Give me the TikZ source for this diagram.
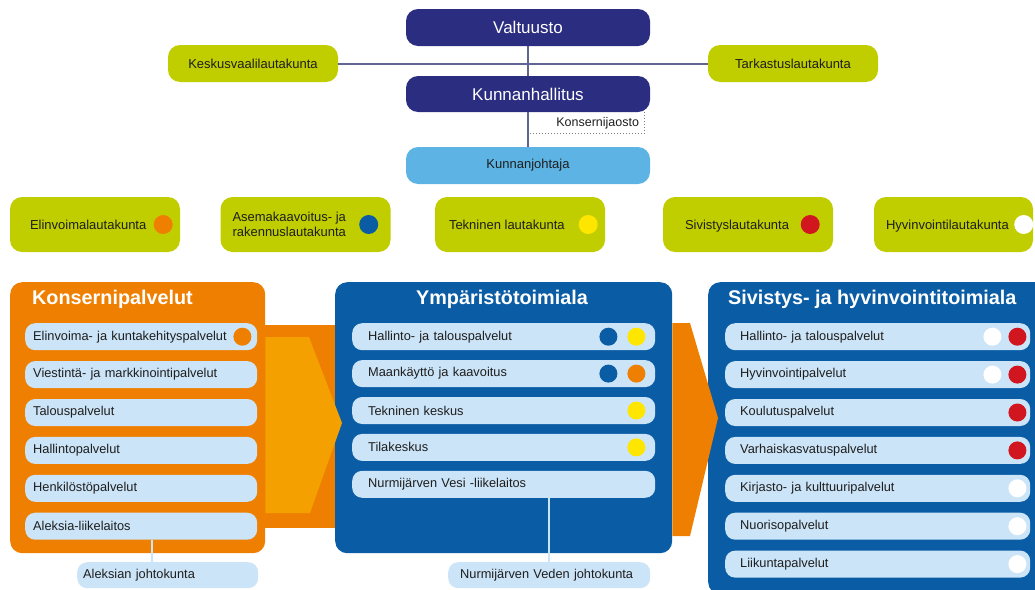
\documentclass[tikz,border=0pt]{standalone}
\usepackage{fontspec}
\setmainfont{Liberation Sans}
\usetikzlibrary{positioning}

\definecolor{hallitus}{RGB}{42,45,128}
\definecolor{lautavihrea}{RGB}{192,206,0}
\definecolor{johtaja}{RGB}{93,180,228}
\definecolor{oranssi}{RGB}{238,127,0}
\definecolor{vaaleaoranssi}{RGB}{244,160,0}
\definecolor{toimiala}{RGB}{10,92,165}
\definecolor{palvelusin}{RGB}{204,228,247}
\definecolor{keltainen}{RGB}{255,230,0}
\definecolor{punainen}{RGB}{210,22,32}
\definecolor{viivavari}{RGB}{95,100,145}
\definecolor{teksti}{RGB}{30,30,30}

\begin{document}
\begin{tikzpicture}[x=1pt,y=-1pt,
    ylin/.style={fill=hallitus, rounded corners=12pt, minimum width=244pt, minimum height=37pt, text=white, font=\fontsize{17}{20}\selectfont},
    lauta/.style={fill=lautavihrea, rounded corners=12pt, minimum width=170pt, minimum height=55pt},
    lautateksti/.style={inner sep=0pt, align=left, text=teksti, font=\fontsize{13}{15}\selectfont},
    yksirivi/.style={text height=9.3pt, text depth=0pt},
    paneeli/.style={rounded corners=12pt, anchor=north west},
    otsikko/.style={text=white, inner sep=0pt, font=\fontsize{19.8}{22}\selectfont\bfseries},
    palvelu/.style={fill=palvelusin, rounded corners=10pt, minimum height=27pt, inner ysep=0pt, align=left, anchor=north west, text=teksti, font=\fontsize{12.8}{15}\selectfont},
    viiva/.style={draw=viivavari, line width=2pt},
    johto/.style={draw=palvelusin, line width=2pt}]
    \useasboundingbox (0,0) rectangle (1035,589);
    \clip (0,0) rectangle (1035,589);

    % ylin johto
    \node[ylin] (valt) at (528,27.5) {Valtuusto};
    \node[ylin, minimum height=36pt] (kh) at (528,94) {Kunnanhallitus};
    \node[ylin, fill=johtaja, text=teksti, font=\fontsize{13}{15}\selectfont] (kj) at (528,165.5) {Kunnanjohtaja};
    \node[lauta, minimum height=37pt, text=teksti, font=\fontsize{13}{15}\selectfont] (kvl) at (253,63.5) {Keskusvaalilautakunta};
    \node[lauta, minimum height=37pt, text=teksti, font=\fontsize{13}{15}\selectfont] (tark) at (793,63.5) {Tarkastuslautakunta};
    \node[anchor=north east, minimum height=21pt, inner xsep=5pt, text=teksti, font=\fontsize{12.5}{14}\selectfont] (konj) at ([xshift=-6pt]kh.south east) {Konsernijaosto};

    \draw[viiva] (kvl.east) -- (tark.west);
    \draw[viiva] (valt.south) -- (kh.north);
    \draw[viiva] (kh.south) -- (kj.north);
    \draw[dotted, draw=gray, line width=1pt] (konj.north east) -- (konj.south east) -- (konj.south east -| kh.south);

    % lautakunnat
    \node[lauta] (elv) at (95,224.5) {};
    \node[lautateksti, yksirivi, right=20pt of elv.west] (elvt) {Elinvoimalautakunta};
    \node[lauta] (asema) at (305.5,224.5) {};
    \node[lautateksti, right=12pt of asema.west] (asemat) {Asemakaavoitus- ja\\rakennuslautakunta};
    \node[lauta] (tekn) at (520,224.5) {};
    \node[lautateksti, yksirivi, right=14pt of tekn.west] (tekny) {Tekninen lautakunta};
    \node[lauta] (sivi) at (748,224.5) {};
    \node[lautateksti, yksirivi, right=22pt of sivi.west] (sivit) {Sivistyslautakunta};
    \node[lauta, minimum width=159pt] (hyv) at (953.5,224.5) {};
    \node[lautateksti, yksirivi, right=12pt of hyv.west] (hyvt) {Hyvinvointilautakunta};

    \fill[oranssi] ([xshift=-17pt]elv.east) circle (9.5pt);
    \fill[toimiala] ([xshift=-22pt]asema.east) circle (9.5pt);
    \fill[keltainen] ([xshift=-17pt]tekn.east) circle (9.5pt);
    \fill[punainen] ([xshift=-23pt]sivi.east) circle (9.5pt);
    \fill[white] ([xshift=-9.5pt]hyv.east) circle (9.5pt);

    % toimialat
    \node[paneeli, fill=oranssi, minimum width=255pt, minimum height=271pt] (kons) at (10,282) {};
    \node[paneeli, fill=toimiala, minimum width=337pt, minimum height=271pt] (ymp) at (335,282) {};
    \node[paneeli, fill=toimiala, minimum width=345pt, minimum height=312pt] (sihy) at (708,282) {};

    \fill[oranssi] (kons.east |- 0,325) rectangle (ymp.west |- 0,528);
    \fill[vaaleaoranssi] (kons.east |- 0,337) -- (309,337) -- (342,423) -- (310,513) -- (kons.east |- 0,513) -- cycle;
    \fill[oranssi] (ymp.east |- 0,323) -- (690,323) -- (718,418) -- (690,536) -- (ymp.east |- 0,536) -- cycle;

    \node[otsikko, anchor=west] (konst) at (32,299) {Konsernipalvelut};
    \node[otsikko] (ympt) at (502,299) {Ympäristötoimiala};
    \node[otsikko, anchor=west] (sihyt) at (728,299) {Sivistys- ja hyvinvointitoimiala};

    % konsernipalvelut
    \begin{scope}[every node/.append style={text width=216pt, inner xsep=8pt}, node distance=10.5pt]
        \node[palvelu] (k1) at (25,323) {Elinvoima- ja kuntakehityspalvelut};
        \node[palvelu, below=of k1] (k2) {Viestintä- ja markkinointipalvelut};
        \node[palvelu, below=of k2] (k3) {Talouspalvelut};
        \node[palvelu, below=of k3] (k4) {Hallintopalvelut};
        \node[palvelu, below=of k4] (k5) {Henkilöstöpalvelut};
        \node[palvelu, below=of k5] (k6) {Aleksia-liikelaitos};
    \end{scope}
    \fill[oranssi] ([xshift=-15pt]k1.east) circle (9pt);

    % ympäristötoimiala
    \begin{scope}[every node/.append style={text width=271pt, inner xsep=16pt}, node distance=9.5pt]
        \node[palvelu] (y1) at (352,323) {Hallinto- ja talouspalvelut};
        \node[palvelu, below=of y1] (y2) {Maankäyttö ja kaavoitus};
        \node[palvelu, below=of y2] (y3) {Tekninen keskus};
        \node[palvelu, below=of y3] (y4) {Tilakeskus};
        \node[palvelu, below=of y4] (y5) {Nurmijärven Vesi -liikelaitos};
    \end{scope}
    \fill[toimiala] ([xshift=-47pt]y1.east) circle (9pt);
    \fill[keltainen] ([xshift=-19pt]y1.east) circle (9pt);
    \fill[toimiala] ([xshift=-47pt]y2.east) circle (9pt);
    \fill[oranssi] ([xshift=-19pt]y2.east) circle (9pt);
    \fill[keltainen] ([xshift=-19pt]y3.east) circle (9pt);
    \fill[keltainen] ([xshift=-19pt]y4.east) circle (9pt);

    % sivistys- ja hyvinvointitoimiala
    \begin{scope}[every node/.append style={text width=275pt, inner xsep=15pt}, node distance=10.5pt]
        \node[palvelu] (s1) at (725,323) {Hallinto- ja talouspalvelut};
        \node[palvelu, below=of s1] (s2) {Hyvinvointipalvelut};
        \node[palvelu, below=of s2] (s3) {Koulutuspalvelut};
        \node[palvelu, below=of s3] (s4) {Varhaiskasvatuspalvelut};
        \node[palvelu, below=of s4] (s5) {Kirjasto- ja kulttuuripalvelut};
        \node[palvelu, below=of s5] (s6) {Nuorisopalvelut};
        \node[palvelu, below=of s6] (s7) {Liikuntapalvelut};
    \end{scope}
    \fill[white] ([xshift=-38pt]s1.east) circle (9pt);
    \fill[punainen] ([xshift=-13pt]s1.east) circle (9pt);
    \fill[white] ([xshift=-38pt]s2.east) circle (9pt);
    \fill[punainen] ([xshift=-13pt]s2.east) circle (9pt);
    \fill[punainen] ([xshift=-13pt]s3.east) circle (9pt);
    \fill[punainen] ([xshift=-13pt]s4.east) circle (9pt);
    \fill[white] ([xshift=-13pt]s5.east) circle (9pt);
    \fill[white] ([xshift=-13pt]s6.east) circle (9pt);
    \fill[white] ([xshift=-13pt]s7.east) circle (9pt);

    % johtokunnat
    \node[palvelu, minimum height=26pt, text width=169pt, inner xsep=6pt] (aj) at (77,562) {Aleksian johtokunta};
    \node[palvelu, minimum height=26pt, text width=178pt, inner xsep=12pt] (nvj) at (448,562) {Nurmijärven Veden johtokunta};
    \draw[johto] ([xshift=-15.5pt]aj.north) -- ([xshift=-15.5pt]aj.north |- k6.south);
    \draw[johto] (nvj.north) -- (nvj.north |- y5.south);
\end{tikzpicture}
\end{document}
